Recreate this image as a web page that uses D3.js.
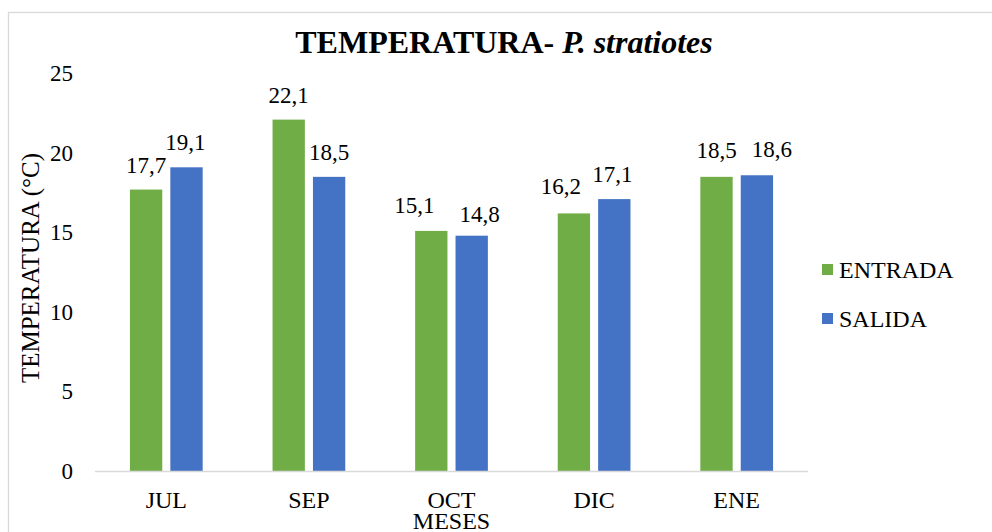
<!DOCTYPE html>
<html>
<head>
<meta charset="utf-8">
<script src="https://cdn.jsdelivr.net/npm/d3@7"></script>
<style>
  body { margin: 0; background: #fff; }
</style>
</head>
<body>
<div id="wrapper"></div>
<script>
const months = ['JUL', 'SEP', 'OCT', 'DIC', 'ENE']
const seriesNames = ['ENTRADA', 'SALIDA']
const entrada = [17.7, 22.1, 15.1, 16.2, 18.5]
const salida = [19.1, 18.5, 14.8, 17.1, 18.6]
const yTicks = [0, 5, 10, 15, 20, 25]
const colors = ['#70ad47', '#4472c4']

// label nudges so neighbouring value labels don't collide (like the original)
const labelNudge = {
  ENTRADA: [[0, 0], [0, 0], [-17, -1], [-13, -2], [0, -2]],
  SALIDA: [[-1, 0], [0, 0], [8, 3], [-2, 0], [15, -1]],
}

const fontFamily = "'Liberation Serif'"

function drawBars() {
  const data = months.map((m, i) => ({
    month: m,
    values: [
      { key: seriesNames[0], value: entrada[i], i },
      { key: seriesNames[1], value: salida[i], i },
    ]
  }))

  const dimensions = {
    width: 992,
    height: 532,
    margin: { top: 73.5, right: 184, bottom: 61, left: 95 },
  }
  dimensions.boundedWidth = dimensions.width
    - dimensions.margin.left
    - dimensions.margin.right
  dimensions.boundedHeight = dimensions.height
    - dimensions.margin.top
    - dimensions.margin.bottom

  const wrapper = d3.select('#wrapper')
    .append('svg')
      .attr('width', dimensions.width)
      .attr('height', dimensions.height)

  // chart frame
  wrapper.append('rect')
      .attr('x', 8.5)
      .attr('y', 12.5)
      .attr('width', 1000)
      .attr('height', 600)
      .attr('fill', 'none')
      .attr('stroke', '#d9d9d9')
      .attr('stroke-width', 1.3)

  const bounds = wrapper.append('g')
      .attr('transform', `translate(${dimensions.margin.left},${dimensions.margin.top})`)

  const xScale = d3.scaleBand()
      .domain(months)
      .range([0, dimensions.boundedWidth])
      .paddingInner(0.49)
      .paddingOuter(0.245)

  const x1Scale = d3.scaleBand()
      .domain(seriesNames)
      .range([0, xScale.bandwidth()])
      .paddingInner(0.2)

  const yScale = d3.scaleLinear()
      .domain([0, 25])
      .range([dimensions.boundedHeight, 0])

  const color = d3.scaleOrdinal().domain(seriesNames).range(colors)

  // bars
  const groups = bounds.selectAll('g.month')
    .data(data)
    .join('g')
      .attr('class', 'month')
      .attr('transform', d => `translate(${xScale(d.month)},0)`)

  groups.selectAll('rect')
    .data(d => d.values)
    .join('rect')
      .attr('x', d => x1Scale(d.key))
      .attr('y', d => yScale(d.value))
      .attr('width', x1Scale.bandwidth())
      .attr('height', d => dimensions.boundedHeight - yScale(d.value))
      .attr('fill', d => color(d.key))

  groups.selectAll('text')
    .data(d => d.values)
    .join('text')
      .attr('x', d => x1Scale(d.key) + x1Scale.bandwidth() / 2 + labelNudge[d.key][d.i][0])
      .attr('y', d => yScale(d.value) - 17 + labelNudge[d.key][d.i][1])
      .attr('text-anchor', 'middle')
      .style('font-family', fontFamily)
      .style('font-size', '23px')
      .text(d => d3.format('.1f')(d.value).replace('.', ','))

  // baseline
  bounds.append('line')
      .attr('x1', 0)
      .attr('x2', dimensions.boundedWidth)
      .attr('y1', dimensions.boundedHeight + 0.5)
      .attr('y2', dimensions.boundedHeight + 0.5)
      .attr('stroke', '#d9d9d9')
      .attr('stroke-width', 1.5)

  // y ticks
  const yAxis = bounds.append('g')
    .call(d3.axisLeft(yScale).tickValues(yTicks).tickSize(0).tickPadding(22))
  yAxis.select('.domain').remove()
  yAxis.selectAll('text')
      .style('font-size', '23px')
      .style('font-family', fontFamily)
      .attr('fill', '#000')

  // x ticks
  const xAxis = bounds.append('g')
      .attr('transform', `translate(0,${dimensions.boundedHeight})`)
    .call(d3.axisBottom(xScale).tickSize(0).tickPadding(20))
  xAxis.select('.domain').remove()
  xAxis.selectAll('text')
      .style('font-size', '24px')
      .style('font-family', fontFamily)
      .attr('fill', '#000')

  // titles
  const title = wrapper.append('text')
      .attr('x', 504)
      .attr('y', 53)
      .attr('text-anchor', 'middle')
      .style('font-family', fontFamily)
      .style('font-size', '32px')
      .style('font-weight', 'bold')
  title.append('tspan').text('TEMPERATURA- ')
  title.append('tspan').style('font-style', 'italic').text('P. stratiotes')

  wrapper.append('text')
      .attr('transform', `translate(39,268) rotate(-90)`)
      .attr('text-anchor', 'middle')
      .style('font-family', fontFamily)
      .style('font-size', '25px')
      .text('TEMPERATURA (°C)')

  wrapper.append('text')
      .attr('x', dimensions.margin.left + xScale('OCT') + xScale.bandwidth() / 2)
      .attr('y', 529)
      .attr('text-anchor', 'middle')
      .style('font-family', fontFamily)
      .style('font-size', '24px')
      .text('MESES')

  // legend
  const legend = wrapper.append('g')
      .attr('transform', 'translate(822,264)')
  const items = legend.selectAll('g')
    .data(seriesNames)
    .join('g')
      .attr('transform', (d, i) => `translate(0,${i * 49})`)
  items.append('rect')
      .attr('width', 11)
      .attr('height', 11)
      .attr('fill', d => color(d))
  items.append('text')
      .attr('x', 17)
      .attr('y', 13.5)
      .style('font-family', fontFamily)
      .style('font-size', '24px')
      .text(d => d)
}

drawBars()
</script>
</body>
</html>
